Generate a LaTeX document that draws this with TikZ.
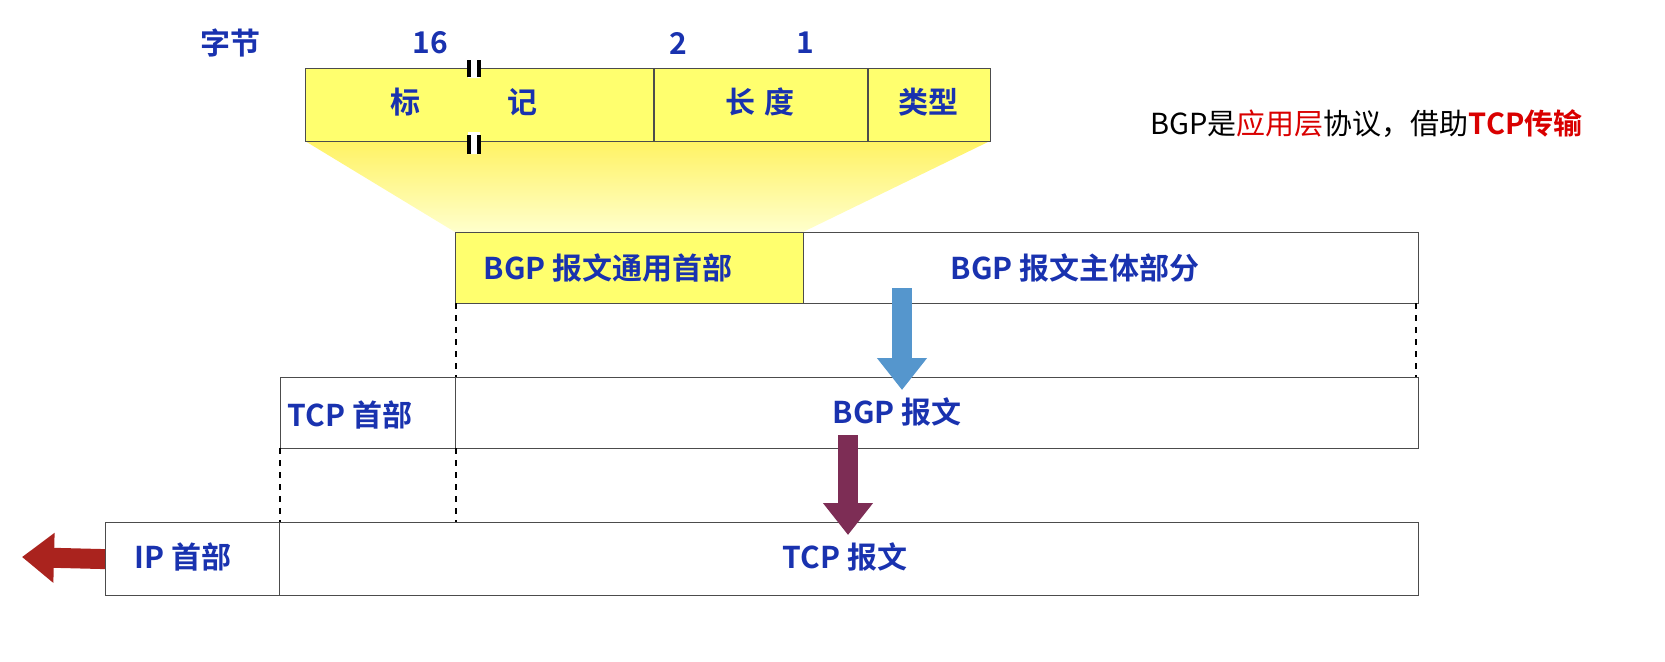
\documentclass[tikz,border=0pt]{standalone}
\usepackage{fontspec}
\setmainfont{Liberation Sans}
\newfontfamily\cjk{Noto Sans CJK SC}[BoldFont={Noto Sans CJK SC Bold}]
\usetikzlibrary{arrows.meta,shadings}
\definecolor{lblue}{RGB}{25,50,175}
\definecolor{fyel}{RGB}{255,255,110}
\definecolor{ared}{RGB}{170,35,30}
\definecolor{ablue}{RGB}{85,150,205}
\definecolor{amar}{RGB}{125,45,85}
\tikzset{
 lbl/.style={font=\cjk\bfseries\fontsize{15}{17}\selectfont, text=lblue, inner sep=0},
 fld/.style={draw=black!70, line width=0.6pt},
 dsh/.style={dashed, line width=0.6pt},
 fat/.style={-{Triangle[length=16pt,width=24pt]}, line width=10pt},
}
\begin{document}
\begin{tikzpicture}[x=0.5pt,y=-0.5pt]
\useasboundingbox (0,0) rectangle (1665,661);
% trapezoid
\shade[top color=fyel!90!orange, bottom color=fyel!35] (305,141) -- (990,141) -- (803,232) -- (455,232) -- cycle;
% header
\node[fld, fill=fyel, minimum width=685*0.5pt, minimum height=73*0.5pt, anchor=north west, inner sep=0] (hdr) at (305,68) {};
\draw[fld] (654,68) -- (654,141) (868,68) -- (868,141);
\fill[white] (468,60) rectangle (480,78) (468,132) rectangle (480,154);
\draw[line width=2.2pt] (469,60) -- (469,77) (479,60) -- (479,77) (469,135) -- (469,154) (479,135) -- (479,154);
\node[lbl] (b1) at (405,102) {标};
\node[lbl] (b2) at (522,102) {记};
\node[lbl] (b3) at (760,102) {长\,\,度};
\node[lbl] (b4) at (928,102) {类型};
\node[lbl] (zj) at (230,43) {字节};
\node[lbl] (n16) at (430,43) {16};
\node[lbl] (n2) at (678,43) {2};
\node[lbl] (n1) at (805,43) {1};
% row1
\node[fld, fill=fyel, minimum width=348*0.5pt, minimum height=71*0.5pt, anchor=north west, inner sep=0] (r1a) at (455,232) {};
\node[fld, minimum width=615*0.5pt, minimum height=71*0.5pt, anchor=north west, inner sep=0] (r1b) at (803,232) {};
\node[lbl] at (608,268) {BGP 报文通用首部};
\node[lbl] at (1075,268) {BGP 报文主体部分};
\draw[dsh] (456,303) -- (456,377) (1416,303) -- (1416,377);
% row2
\node[fld, minimum width=175*0.5pt, minimum height=71*0.5pt, anchor=north west, inner sep=0] (r2a) at (280,377) {};
\node[fld, minimum width=963*0.5pt, minimum height=71*0.5pt, anchor=north west, inner sep=0] (r2b) at (455,377) {};
\node[lbl] at (350,415) {TCP 首部};
\node[lbl] at (897,412) {BGP 报文};
\draw[dsh] (280,448) -- (280,522) (456,448) -- (456,522);
% row3
\node[fld, minimum width=174*0.5pt, minimum height=73*0.5pt, anchor=north west, inner sep=0] (r3a) at (105,522) {};
\node[fld, minimum width=1139*0.5pt, minimum height=73*0.5pt, anchor=north west, inner sep=0] (r3b) at (279,522) {};
\node[lbl] at (183,557) {IP 首部};
\node[lbl] at (845,557) {TCP 报文};
% arrows
\coordinate (ab1) at (902,288); \coordinate (ab2) at (902,390);
\draw[fat, draw=ablue, fill=ablue] (ab1) -- (ab2);
\coordinate (am1) at (848,435); \coordinate (am2) at (848,535);
\draw[fat, draw=amar, fill=amar] (am1) -- (am2);
\coordinate (ar2) at (22,557);
\draw[fat, draw=ared, fill=ared] (r3a.west) -- (ar2);
% side text
\begin{scope}
\clip (1100,90) rectangle (1665,160);
\node[anchor=west, inner sep=0, font=\cjk\fontsize{14.5}{16}\selectfont] (side) at (1150,124)
 {BGP是\textcolor{red!85!black}{应用层}协议，借助\textcolor{red!85!black}{\bfseries TCP传输}};
\end{scope}
\end{tikzpicture}
\end{document}
